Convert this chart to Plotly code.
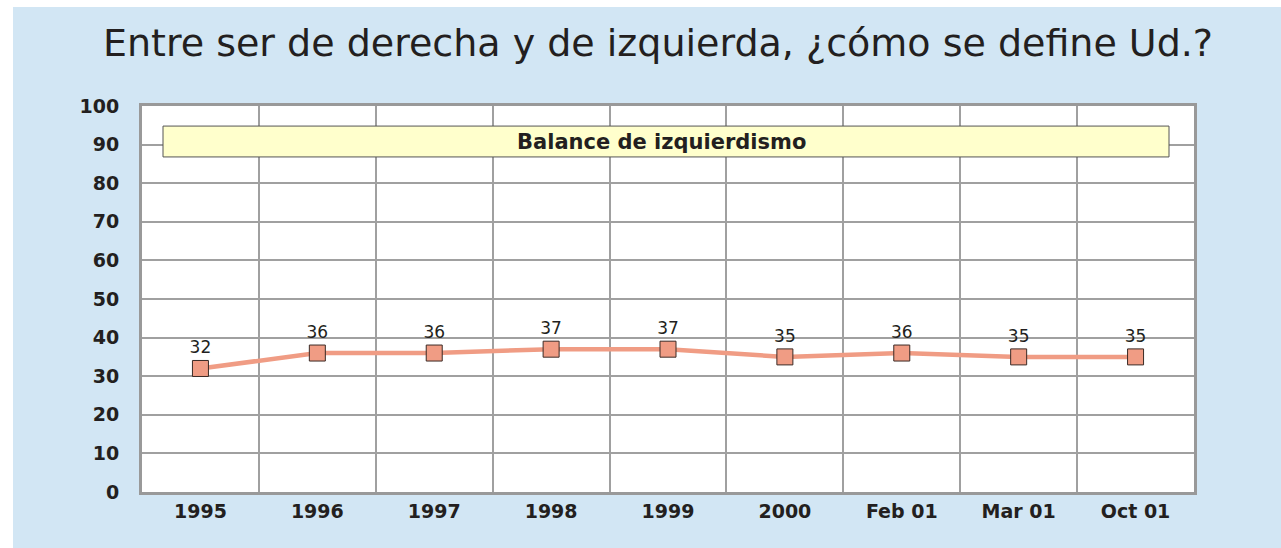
import plotly.graph_objects as go

categories = ["1995", "1996", "1997", "1998", "1999", "2000", "Feb 01", "Mar 01", "Oct 01"]
values = [32, 36, 36, 37, 37, 35, 36, 35, 35]
y_ticks = list(range(0, 101, 10))
title_text = "Entre ser de derecha y de izquierda, ¿cómo se define Ud.?"
box_text = "Balance de izquierdismo"

FONT = "DejaVu Sans"
BLUE = "#D2E6F4"
SALMON = "#F09C84"
GRID = "#A0A0A0"

W, H = 1281, 548
L, R, T, B = 142, 87, 106, 56
pw, ph = W - L - R, H - T - B

def px_to_paper_x(px):
    return (px - L) / pw

def px_to_paper_y(py):
    return (H - B - py) / ph

fig = go.Figure()
fig.add_trace(go.Scatter(
    x=categories, y=values, mode="lines+markers+text",
    line=dict(color=SALMON, width=4.5),
    marker=dict(symbol="square", size=16, color=SALMON, line=dict(color="#3A2A25", width=1)),
    text=[str(v) for v in values], textposition="top center",
    textfont=dict(family=FONT, size=17, color="#231F20"),
    cliponaxis=False, showlegend=False, hoverinfo="skip",
))

shapes = [
    dict(type="rect", xref="paper", yref="paper", layer="below",
         x0=px_to_paper_x(-5), x1=px_to_paper_x(W + 5), y0=px_to_paper_y(7), y1=px_to_paper_y(-5),
         fillcolor="white", line=dict(width=0)),
    dict(type="rect", xref="paper", yref="paper", layer="below",
         x0=px_to_paper_x(-5), x1=px_to_paper_x(13), y0=px_to_paper_y(H + 5), y1=px_to_paper_y(-5),
         fillcolor="white", line=dict(width=0)),
    dict(type="rect", xref="paper", yref="y", layer="above",
         x0=px_to_paper_x(163), x1=px_to_paper_x(1169), y0=86.8, y1=94.8,
         fillcolor="#FFFFCC", line=dict(color="#555555", width=1)),
]

fig.add_annotation(xref="paper", yref="y", x=px_to_paper_x(661), y=90.8,
                   text="<b>" + box_text + "</b>", showarrow=False,
                   font=dict(family=FONT, size=21, color="#231F20"))

fig.update_layout(
    width=W, height=H,
    margin=dict(l=L, r=R, t=T, b=B),
    paper_bgcolor=BLUE, plot_bgcolor="white",
    shapes=shapes,
    title=dict(text=title_text, x=658 / W, xanchor="center", y=1 - 43 / H, yanchor="middle",
               font=dict(family=FONT, size=38, color="#231F20")),
    xaxis=dict(type="category", categoryorder="array", categoryarray=categories,
               range=[-0.5, len(categories) - 0.5], tickson="boundaries",
               showgrid=True, gridcolor=GRID, gridwidth=1.5,
               showline=True, linecolor="#999999", linewidth=3, mirror=True,
               ticks="outside", ticklen=6, tickcolor="rgba(0,0,0,0)",
               tickfont=dict(family=FONT, size=19, color="#231F20", weight="bold")),
    yaxis=dict(range=[0, 100], tickvals=y_ticks, ticktext=[str(v) for v in y_ticks],
               showgrid=True, gridcolor=GRID, gridwidth=1.5, zeroline=False,
               showline=True, linecolor="#999999", linewidth=3, mirror=True,
               ticks="outside", ticklen=16, tickcolor="rgba(0,0,0,0)",
               tickfont=dict(family=FONT, size=19, color="#231F20", weight="bold")),
)

fig.write_html("out.html", config={"displayModeBar": False},
               post_script="document.body.style.margin='0';document.body.style.padding='0';")
